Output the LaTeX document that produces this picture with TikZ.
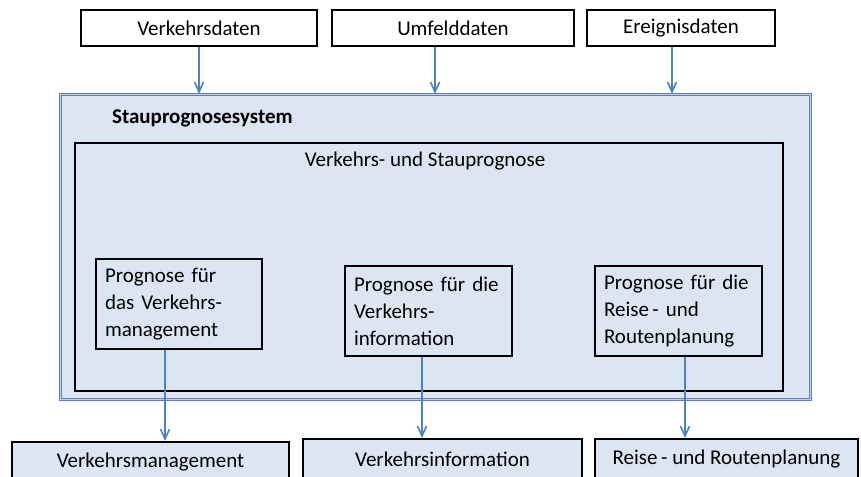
\documentclass[tikz,border=0pt]{standalone}
\usepackage{fontspec}
\setmainfont{Carlito}
\usetikzlibrary{arrows.meta}
\definecolor{paleblue}{HTML}{DCE6F2}
\definecolor{arrowblue}{HTML}{4F81BD}
\definecolor{rimblue}{HTML}{5E7FB8}

\begin{document}
\begin{tikzpicture}[x=0.5pt, y=-0.5pt, >={Straight Barb[length=5pt,width=4.5pt]},
  every node/.style={font=\fontsize{10.5pt}{13.5pt}\selectfont},
  databox/.style={draw, line width=1pt, minimum height=18pt, inner sep=0pt},
  prog/.style={draw, line width=1pt, fill=paleblue, align=left, inner sep=4.5pt, minimum height=44pt},
  outbox/.style={draw, line width=1pt, fill=paleblue, minimum height=20pt, inner sep=0pt},
  flow/.style={->, draw=arrowblue, line width=0.8pt}]
\path[use as bounding box, clip] (0,0) rectangle (861,476);
% input data
\node[databox, minimum width=118pt] (verk) at (199,28) {Verkehrsdaten};
\node[databox, minimum width=121pt] (umf) at (453,28) {Umfelddaten};
\node[databox, minimum width=94pt] (ereig) at (681,28) {Ereignisdaten};
% system
\node[draw=rimblue, double=paleblue!80!rimblue, double distance=0.6pt, line width=0.55pt, fill=paleblue, minimum width=375pt, minimum height=152.5pt, inner sep=0pt] (sys) at (435.5,247) {};
\node[anchor=west, font=\fontsize{10.5pt}{13.5pt}\selectfont\bfseries] (systitle) at (105,118) {Stauprognosesystem};
\node[draw, line width=1pt, minimum width=354pt, minimum height=124pt, inner sep=0pt] (core) at (429,267) {};
\node (coretitle) at (425,161) {Verkehrs- und Stauprognose};
\node[prog, text width=74pt] (pmgmt) at (179,304) {Prognose für\\das Verkehrs-\\management};
\node[prog, text width=74.5pt, minimum height=45pt] (pinfo) at (428.5,311) {Prognose für die\\Verkehrs-\\information};
\node[prog, text width=74.5pt, minimum height=45pt] (proute) at (678.5,311) {Prognose für die\\Reise\,- und\\Routenplanung};
% outputs
\node[outbox, minimum width=138.5pt] (omgmt) at (150.5,462) {Verkehrsmanagement};
\node[outbox, minimum width=139.5pt] (oinfo) at (442.5,459) {Verkehrsinformation};
\node[outbox, minimum width=131.5pt] (oroute) at (726.5,459) {Reise\,- und Routenplanung};
\draw[flow] (verk.south) -- (verk.south |- sys.north);
\draw[flow] ([xshift=-9pt]umf.south) -- ([xshift=-9pt]umf.south |- sys.north);
\draw[flow] ([xshift=-4.5pt]ereig.south) -- ([xshift=-4.5pt]ereig.south |- sys.north);
\draw[flow] ([xshift=-7pt]pmgmt.south) -- ([xshift=-7pt]pmgmt.south |- omgmt.north);
\draw[flow] ([xshift=-3.25pt]pinfo.south) -- ([xshift=-3.25pt]pinfo.south |- oinfo.north);
\draw[flow] ([xshift=3.25pt]proute.south) -- ([xshift=3.25pt]proute.south |- oroute.north);
\end{tikzpicture}
\end{document}
